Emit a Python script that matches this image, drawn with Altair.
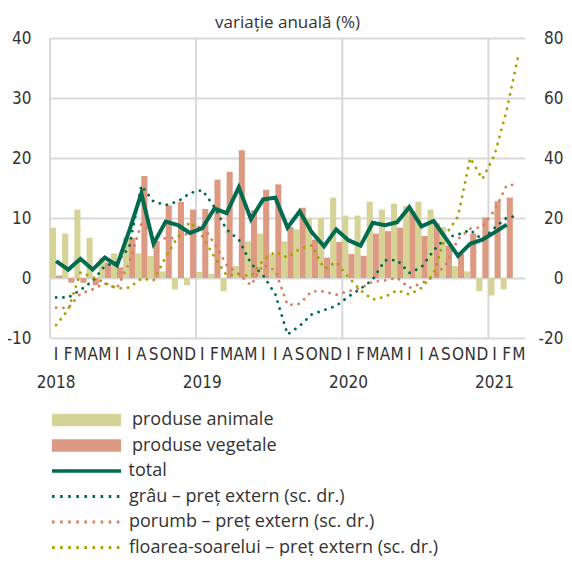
import json
import altair as alt
import pandas as pd

months = [
    "2018-01", "2018-02", "2018-03", "2018-04", "2018-05", "2018-06",
    "2018-07", "2018-08", "2018-09", "2018-10", "2018-11", "2018-12",
    "2019-01", "2019-02", "2019-03", "2019-04", "2019-05", "2019-06",
    "2019-07", "2019-08", "2019-09", "2019-10", "2019-11", "2019-12",
    "2020-01", "2020-02", "2020-03", "2020-04", "2020-05", "2020-06",
    "2020-07", "2020-08", "2020-09", "2020-10", "2020-11", "2020-12",
    "2021-01", "2021-02", "2021-03",
]
year_starts = ["2018-01", "2019-01", "2020-01", "2021-01"]
month_initials = ["I", "F", "M", "A", "M", "I", "I", "A", "S", "O", "N", "D"]

animale = [8.4, 7.4, 11.4, 6.7, 3.4, 4.1, 6.8, 4.1, 3.7, 1.1, -1.9, -1.2,
           1.0, 0.7, -2.2, 2.0, 6.1, 7.4, 4.0, 6.1, 8.1, 10.0, 10.0, 13.4,
           10.4, 10.4, 12.7, 11.4, 12.4, 12.0, 12.7, 11.4, 8.5, 2.0, 1.1, -2.2,
           -2.9, -1.9, None]
vegetale = [0.4, -0.8, -0.8, -1.2, 2.6, 1.8, 6.7, 17.0, 6.2, 12.1, 12.7, 11.4,
            11.5, 16.4, 17.7, 21.3, 11.3, 14.7, 15.6, 8.5, 11.7, 6.4, 3.4, 6.0,
            4.0, 3.7, 7.4, 7.8, 8.4, 11.1, 7.0, 9.1, 5.4, 4.0, 7.4, 10.1,
            12.8, 13.4, None]
total = [2.8, 1.4, 3.2, 1.4, 3.4, 2.1, 7.8, 14.1, 5.7, 9.4, 8.8, 7.5,
         8.3, 11.6, 10.8, 15.1, 9.8, 13.1, 13.4, 8.4, 11.1, 7.6, 5.3, 8.1,
         6.3, 5.4, 9.2, 8.8, 9.3, 11.8, 8.6, 9.5, 6.6, 3.7, 5.7, 6.4,
         7.6, 8.9, None]
grau = [-6.5, -6.5, -4.0, -1.0, 4.0, 5.2, 10.2, 30.8, 25.5, 24.3, 25.5, 28.3,
        29.3, 23.7, 16.1, 12.8, 4.8, 0.9, -5.4, -18.8, -16.0, -12.1, -10.7, -9.3,
        -6.2, -3.6, -0.5, 5.9, 6.0, 1.7, 3.6, 9.2, 13.4, 14.5, 16.0, 12.8,
        16.7, 20.1, 20.8]
porumb = [-9.9, -10.0, -5.2, -3.8, -1.8, -3.4, 5.0, 18.1, 14.5, 13.1, 13.5, 15.1,
          17.7, 11.5, 4.3, 1.3, -2.4, 4.4, 2.5, -9.0, -8.6, -4.4, -4.5, -5.6,
          -4.4, -3.4, -1.2, -0.8, 0.1, -3.3, -1.8, 0.5, 4.4, 13.0, 16.4, 17.0,
          22.6, 30.9, 31.2]
floarea = [-15.7, -10.5, 1.8, 0.3, -1.6, -3.5, -3.2, -0.2, -0.8, 7.0, 13.7, 18.7,
           14.0, 7.0, 0.9, 1.2, 0.6, 5.9, 8.8, 6.8, 9.7, 10.9, 3.1, 5.3,
           0.3, -4.1, -7.2, -6.3, -4.1, -5.5, -3.3, 1.5, 14.5, 20.5, 40.0, 33.0,
           41.0, 56.0, 75.0]

S_ANI = "produse animale"
S_VEG = "produse vegetale"
S_TOT = "total"
S_GRAU = "grâu – preț extern (sc. dr.)"
S_POR = "porumb – preț extern (sc. dr.)"
S_FLO = "floarea-soarelui – preț extern (sc. dr.)"
bar_series = [S_ANI, S_VEG]
bar_colors = ["#d6d397", "#dc9a82"]
total_series = [S_TOT]
total_colors = ["#006b4f"]
dotted_series = [S_GRAU, S_POR, S_FLO]
dotted_colors = ["#006b4f", "#d77f62", "#a8a200"]


def long(names_values):
    rows = []
    for name, vals in names_values:
        for m, v in zip(months, vals):
            if v is not None:
                rows.append({"month": m, "series": name, "value": v})
    return pd.DataFrame(rows)


bars_df = long([(S_ANI, animale), (S_VEG, vegetale)])
total_df = long([(S_TOT, total)])
dotted_df = long([(S_GRAU, grau), (S_POR, porumb), (S_FLO, floarea)])
vgrid_df = pd.DataFrame({"month": year_starts})

LABEL_FONT = "Liberation Sans Narrow, DejaVu Sans Condensed, sans-serif"
TEXT_FONT = "Open Sans, Noto Sans, sans-serif"
TXT = "#333333"
GRID = "#d9d9d9"

initials_js = json.dumps(month_initials)
label_expr = (
    "slice(datum.value, 5, 7) == '01' ? ['I', slice(datum.value, 0, 4)] : "
    f"{initials_js}[toNumber(slice(datum.value, 5, 7)) - 1]"
)

x_scale = alt.Scale(domain=months, paddingInner=0, paddingOuter=0)
x_axis = alt.Axis(
    labelExpr=label_expr, labelAngle=0, labelOverlap=False, labelFont=LABEL_FONT,
    labelFontSize=17, labelColor=TXT, labelLineHeight=28, labelPadding=8,
    ticks=False, domain=False, grid=False, title=None, labelBound=False,
)
X = alt.X("month:O", scale=x_scale, axis=x_axis, title=None)

RECT = "M-1,-0.907L8.857,-0.907L8.857,0.907L-1,0.907Z"
LINE = "M-1,0L8.857,0"
common_legend = dict(
    orient="none", title=None, direction="vertical",
    labelFont=TEXT_FONT, labelFontSize=18, labelColor=TXT, labelLimit=450,
    symbolSize=196, rowPadding=7.5, padding=0, symbolOpacity=1,
)
legend_bars = alt.Legend(legendX=0, legendY=373, symbolType=RECT, symbolStrokeWidth=0,
                         labelOffset=64, **common_legend)
legend_total = alt.Legend(legendX=0, legendY=424, symbolType=LINE, symbolStrokeWidth=3.5,
                          labelOffset=60.5, **common_legend)
legend_dotted = alt.Legend(legendX=0, legendY=449.5, symbolType=LINE, symbolStrokeWidth=2.8,
                           symbolDash=[2.6, 5.5], labelOffset=61, **common_legend)

left_axis = alt.Axis(
    values=[-10, 0, 10, 20, 30, 40], grid=True, gridColor=GRID, gridWidth=2,
    ticks=False, domain=False, labelFont=LABEL_FONT, labelFontSize=17, labelColor=TXT,
    labelPadding=19, title=None, labelExpr="'' + datum.value",
)
right_axis = alt.Axis(
    orient="right", values=[-20, 0, 20, 40, 60, 80], grid=False, ticks=False,
    domain=False, labelFont=LABEL_FONT, labelFontSize=17, labelColor=TXT,
    labelAlign="right", labelPadding=38, title=None, labelExpr="'' + datum.value",
)
left_scale = alt.Scale(domain=[-10, 40], nice=False, zero=False)
right_scale = alt.Scale(domain=[-20, 80], nice=False, zero=False)

vgrid = alt.Chart(vgrid_df).mark_rule(color=GRID, strokeWidth=2).encode(
    x=alt.X("month:O", bandPosition=0, scale=x_scale, axis=x_axis, title=None)
)

bars = alt.Chart(bars_df).mark_bar().encode(
    x=X,
    xOffset=alt.XOffset("series:N", scale=alt.Scale(domain=bar_series, paddingInner=0, paddingOuter=0)),
    y=alt.Y("value:Q", scale=left_scale, axis=left_axis, title=None),
    fill=alt.Fill("series:N", scale=alt.Scale(domain=bar_series, range=bar_colors), legend=legend_bars),
)

dotted = alt.Chart(dotted_df).mark_line(strokeWidth=2.8, strokeDash=[0.1, 7.2], strokeCap="round").encode(
    x=X,
    y=alt.Y("value:Q", scale=right_scale, axis=right_axis, title=None),
    color=alt.Color("series:N", scale=alt.Scale(domain=dotted_series, range=dotted_colors), legend=legend_dotted),
)

total_line = alt.Chart(total_df).mark_line(strokeWidth=4).encode(
    x=X,
    y=alt.Y("value:Q", scale=left_scale, axis=None, title=None),
    stroke=alt.Stroke("series:N", scale=alt.Scale(domain=total_series, range=total_colors), legend=legend_total),
)

chart = alt.layer(vgrid, bars, dotted, total_line).resolve_scale(y="independent").properties(
    width=475,
    height=300,
    padding={"left": 42, "top": 30, "right": 39, "bottom": 218},
    autosize=alt.AutoSizeParams(type="none"),
    title=alt.TitleParams(
        "variație anuală (%)", font=TEXT_FONT, fontSize=17, fontWeight="normal",
        color=TXT, anchor="middle", offset=-3,
    ),
).configure_view(stroke=None)

chart.save("out.html", embed_options={"renderer": "svg", "actions": False})
